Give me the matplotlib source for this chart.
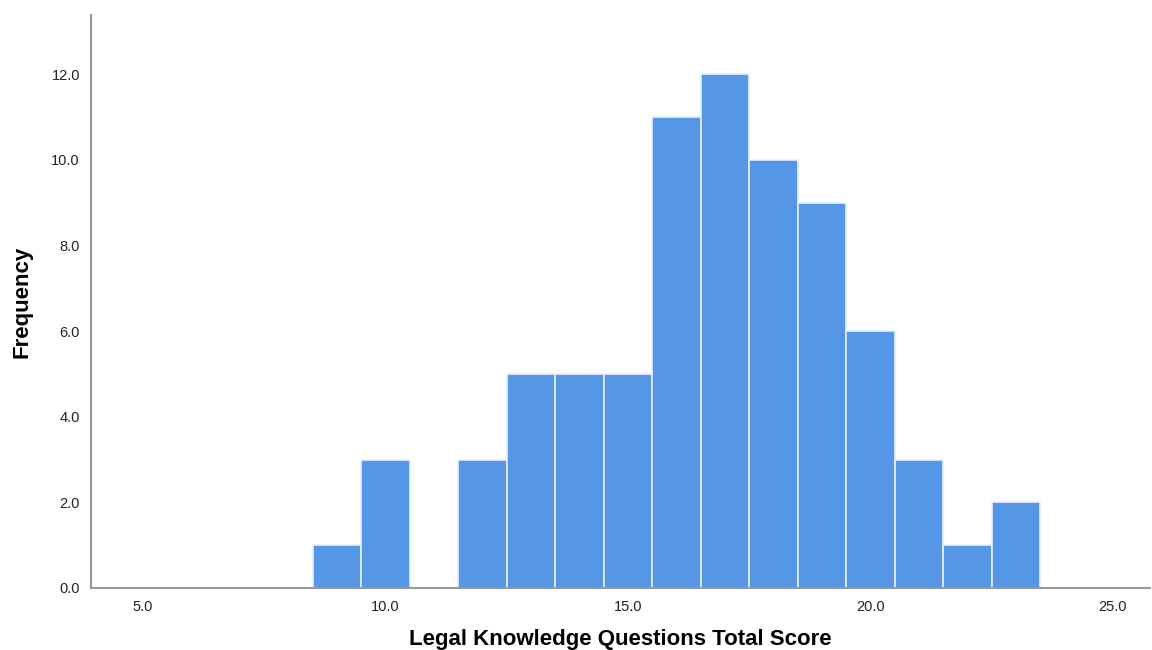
import matplotlib
matplotlib.use("Agg")
import matplotlib.pyplot as plt
import numpy as np

# histogram bins (centres) and counts
scores = [9, 10, 11, 12, 13, 14, 15, 16, 17, 18, 19, 20, 21, 22, 23]
counts = [1, 3, 0, 3, 5, 5, 5, 11, 12, 10, 9, 6, 3, 1, 2]
xticks = [5.0, 10.0, 15.0, 20.0, 25.0]
yticks = [0.0, 2.0, 4.0, 6.0, 8.0, 10.0, 12.0]

plt.rcParams['font.family'] = ['Liberation Sans', 'DejaVu Sans']

fig = plt.figure(figsize=(11.52, 6.5), dpi=100)
ax = fig.add_axes([0.079, 0.0954, 0.919, 0.8816])

ax.bar(scores, counts, width=1.0, color='#5596E6', edgecolor='#E6F0FB', linewidth=1.2)

ax.set_xlim(3.93, 25.76)
ax.set_ylim(0, 13.38)
ax.set_xticks(xticks)
ax.set_xticklabels([f"{v:.1f}" for v in xticks])
ax.set_yticks(yticks)
ax.set_yticklabels([f"{v:.1f}" for v in yticks])
ax.tick_params(length=0, labelsize=10.5, colors='#222222')
ax.tick_params(axis='x', pad=9)
ax.tick_params(axis='y', pad=8)

for side in ['top', 'right']:
    ax.spines[side].set_visible(False)
for side in ['left', 'bottom']:
    ax.spines[side].set_color('#999999')
    ax.spines[side].set_linewidth(1.5)

ax.set_xlabel('Legal Knowledge Questions Total Score', fontsize=16, fontweight='bold', va='top')
ax.xaxis.set_label_coords(0.5, -0.072)
ax.set_ylabel('Frequency', fontsize=16, fontweight='bold', va='center')
ax.yaxis.set_label_coords(-0.065, 0.5)

fig.savefig('out.png', dpi=100)
plt.close(fig)
